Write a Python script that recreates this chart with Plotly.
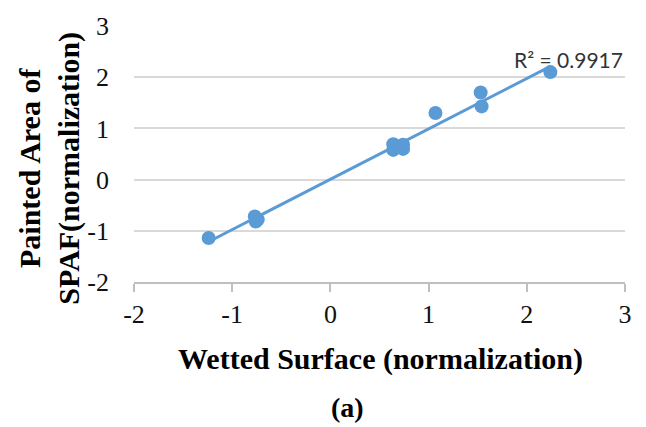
import numpy as np
import plotly.graph_objects as go

# Normalized measurements
wetted_surface = [-1.24, -0.77, -0.76, -0.74, 0.64, 0.64, 0.74, 0.74, 1.07, 1.53, 1.54, 2.24]
painted_area = [-1.14, -0.72, -0.82, -0.78, 0.69, 0.58, 0.68, 0.60, 1.30, 1.70, 1.43, 2.10]
r2_label = "R² = 0.9917"
tick_vals = [-2, -1, 0, 1, 2, 3]
tick_text = ["-2", "-1", "0", "1", "2", "3"]

BLUE = "#5B9BD5"
W, H = 646, 427
L, R, T, B = 134, 21, 20, 145
PW, PH = W - L - R, H - T - B


def paper_x(px):
    return (px - L) / PW


def paper_y(py):
    return (T + PH - py) / PH


# Linear trendline fitted to the points
slope, intercept = np.polyfit(wetted_surface, painted_area, 1)
line_x = np.array([min(wetted_surface), max(wetted_surface)])
line_y = slope * line_x + intercept

fig = go.Figure()
fig.add_trace(go.Scatter(
    x=wetted_surface, y=painted_area, mode="markers",
    marker=dict(color=BLUE, size=14, line=dict(width=0)),
    showlegend=False,
))
fig.add_trace(go.Scatter(
    x=line_x, y=line_y, mode="lines",
    line=dict(color=BLUE, width=3),
    showlegend=False,
))

serif = "Liberation Serif"

fig.update_layout(
    width=W, height=H,
    margin=dict(l=L, r=R, t=T, b=B),
    paper_bgcolor="white", plot_bgcolor="white",
    font=dict(family=serif, color="black"),
    xaxis=dict(
        range=[-2, 3], tickvals=tick_vals, ticktext=tick_text,
        showgrid=False, zeroline=False,
        showline=True, linecolor="#bfbfbf", linewidth=1.5,
        ticks="outside", ticklen=8, tickcolor="#bfbfbf", tickwidth=1.5,
        tickfont=dict(family=serif, size=26, color="#111"),
    ),
    yaxis=dict(
        range=[-2, 3], tickvals=tick_vals, ticktext=tick_text,
        showgrid=True, gridcolor="#d9d9d9",
        gridwidth=1.5, zeroline=False, showline=False, ticks="",
        ticklabelstandoff=24,
        tickfont=dict(family=serif, size=26, color="#111"),
    ),
    annotations=[
        dict(text="<b>Wetted Surface (normalization)</b>", xref="paper", yref="paper",
             x=paper_x(380), y=paper_y(361), xanchor="center", yanchor="middle",
             showarrow=False, font=dict(family=serif, size=30, color="black")),
        dict(text="<b>Painted Area of<br>SPAF(normalization)</b>", xref="paper", yref="paper",
             x=paper_x(50), y=paper_y(166), xanchor="center", yanchor="middle",
             textangle=-90, showarrow=False,
             font=dict(family=serif, size=30, color="black")),
        dict(text="<b>(a)</b>", xref="paper", yref="paper",
             x=paper_x(347), y=paper_y(410), xanchor="center", yanchor="middle",
             showarrow=False, font=dict(family=serif, size=28, color="black")),
        dict(text=r2_label, xref="paper", yref="paper",
             x=paper_x(568), y=paper_y(54), xanchor="center", yanchor="middle",
             showarrow=False, font=dict(family="Lato, sans-serif", size=21, color="#333")),
    ],
)

fig.write_html("out.html")
